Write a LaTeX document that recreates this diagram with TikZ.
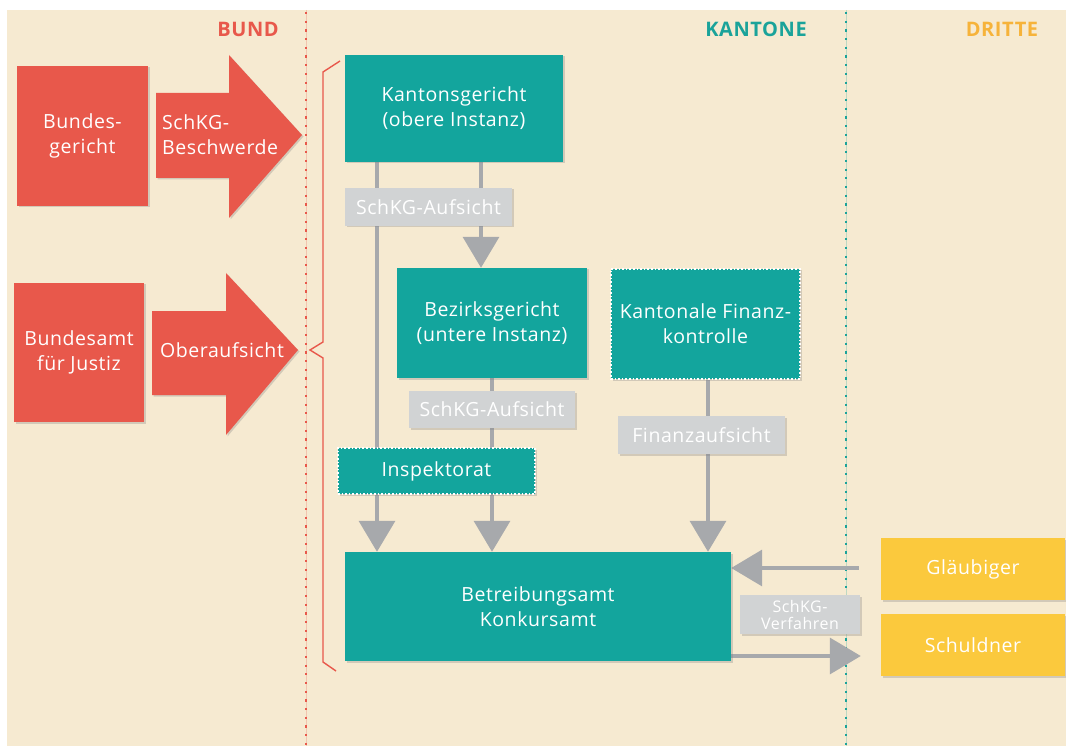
\documentclass[tikz,border=0pt]{standalone}
\usepackage{fontspec}
\setmainfont{Open Sans}[LetterSpace=3]
\usetikzlibrary{arrows.meta,shadows,calc}
\definecolor{bgc}{HTML}{F6EAD1}
\definecolor{bred}{HTML}{E8584B}
\definecolor{teal1}{HTML}{13A59D}
\definecolor{tealt}{HTML}{1AA39A}
\definecolor{yel}{HTML}{FBC93D}
\definecolor{yelt}{HTML}{F6B33A}
\definecolor{glbl}{HTML}{D1D3D4}
\definecolor{garrow}{HTML}{A7A9AC}
\pgfdeclarelayer{background}
\pgfdeclarelayer{lines}
\pgfsetlayers{background,lines,main}
\begin{document}
\begin{tikzpicture}[x=1pt,y=-1pt,
  box/.style={rectangle, inner sep=0pt, align=center, text=white,
    font=\fontsize{19.5}{25}\selectfont,
    drop shadow={shadow xshift=1.5pt, shadow yshift=-1.5pt, opacity=.3}},
  redbox/.style={box, fill=bred},
  tealbox/.style={box, fill=teal1},
  dotbox/.style={tealbox, draw=white, line width=1.2pt, dash pattern=on 1.6pt off 2pt},
  graylbl/.style={box, fill=glbl},
  yelbox/.style={box, fill=yel},
  bigarrow/.style={fill=bred, drop shadow={shadow xshift=1.5pt, shadow yshift=-1.5pt, opacity=.3}},
  arrowtext/.style={text=white, font=\fontsize{19.5}{25}\selectfont, inner sep=0pt},
  title/.style={font=\fontsize{20}{22}\selectfont\bfseries, inner sep=0pt},
  conn/.style={draw=garrow, line width=3.5pt, -{Triangle[length=31pt,width=36pt]}},
  divider/.style={line width=2.6pt, dash pattern=on 2.2pt off 6.5pt}
]
\useasboundingbox (0,0) rectangle (1066,746);
\begin{pgfonlayer}{background}
  \fill[bgc] (7,10) rectangle (1066,746);
  \draw[bred, line width=0.8pt, opacity=.25] (306,10) -- (306,746);
  \draw[bred, divider] (306,12) -- (306,746);
  \draw[tealt, line width=0.8pt, opacity=.25] (846,10) -- (846,746);
  \draw[tealt, divider] (846,12) -- (846,746);
\end{pgfonlayer}

% titles
\node[title, text=bred] (tbund) at (248,29) {BUND};
\node[title, text=tealt] (tkant) at (756,29) {KANTONE};
\node[title, text=yelt] (tdritte) at (1002,29) {DRITTE};

% Bund
\node[redbox, minimum width=131pt, minimum height=140pt] (bger) at (82.5,136) {Bundes-\\gericht};
\node[redbox, minimum width=130pt, minimum height=139pt] (bfj) at (79,352.5) {Bundesamt\\für Justiz};

\fill[bigarrow] (156,93) -- (229,93) -- (229,55) -- (302,135) -- (229,218) -- (229,178) -- (156,178) -- cycle;
\node[arrowtext, anchor=west, align=left] (beschw) at (162,135) {SchKG-\\Beschwerde};
\fill[bigarrow] (152,311) -- (226,311) -- (226,273) -- (298,350) -- (226,435) -- (226,395) -- (152,395) -- cycle;
\node[arrowtext] (oberaufs) at (222,350) {Oberaufsicht};

% bracket
\draw[bred, line width=1.4pt, line join=miter] (340,61) -- (323,72) -- (323,342) -- (310,350) -- (323,358) -- (323,662) -- (336,671);

% Kantone
\node[tealbox, minimum width=218pt, minimum height=107pt] (kg) at (454,108.5) {Kantonsgericht\\(obere Instanz)};
\node[graylbl, minimum width=167pt, minimum height=38pt] (sa1) at (428.5,207) {SchKG-Aufsicht};
\node[tealbox, minimum width=190pt, minimum height=110pt] (bz) at (492,323) {Bezirksgericht\\(untere Instanz)};
\node[dotbox, minimum width=189pt, minimum height=110pt] (fk) at (705.5,324) {Kantonale Finanz-\\kontrolle};
\node[graylbl, minimum width=166pt, minimum height=37pt] (sa2) at (492,409.5) {SchKG-Aufsicht};
\node[graylbl, minimum width=167pt, minimum height=38pt] (fa) at (701.5,435) {Finanzaufsicht};
\node[dotbox, minimum width=197pt, minimum height=46pt] (insp) at (436.5,471) {Inspektorat};
\node[tealbox, minimum width=386pt, minimum height=109pt] (ba) at (538,606.5) {Betreibungsamt\\Konkursamt};

% Dritte
\node[yelbox, minimum width=184pt, minimum height=62pt] (gl) at (973,569) {Gläubiger};
\node[yelbox, minimum width=184pt, minimum height=62pt] (sch) at (973,645) {Schuldner};
\node[graylbl, minimum width=120pt, minimum height=39pt, font=\fontsize{16}{17}\selectfont] (sv) at (800,614.5) {SchKG-\\Verfahren};

% connector guide coordinates
\coordinate (xa) at (377,0);
\coordinate (xb) at (481,0);
\coordinate (xc) at (492,0);
\coordinate (xd) at (708,0);
\coordinate (yg) at (0,568);
\coordinate (ys) at (0,656);

\begin{pgfonlayer}{lines}
  \draw[conn] (kg.south -| xa) -- (ba.north -| xa);
  \draw[conn] (kg.south -| xb) -- (bz.north -| xb);
  \draw[conn] (bz.south -| xc) -- (ba.north -| xc);
  \draw[conn] (fk.south -| xd) -- (ba.north -| xd);
  \draw[conn, shorten <=22pt] (gl.west |- yg) -- (ba.east |- yg);
  \draw[conn, shorten >=20pt] (ba.east |- ys) -- (sch.west |- ys);
\end{pgfonlayer}
\end{tikzpicture}
\end{document}
